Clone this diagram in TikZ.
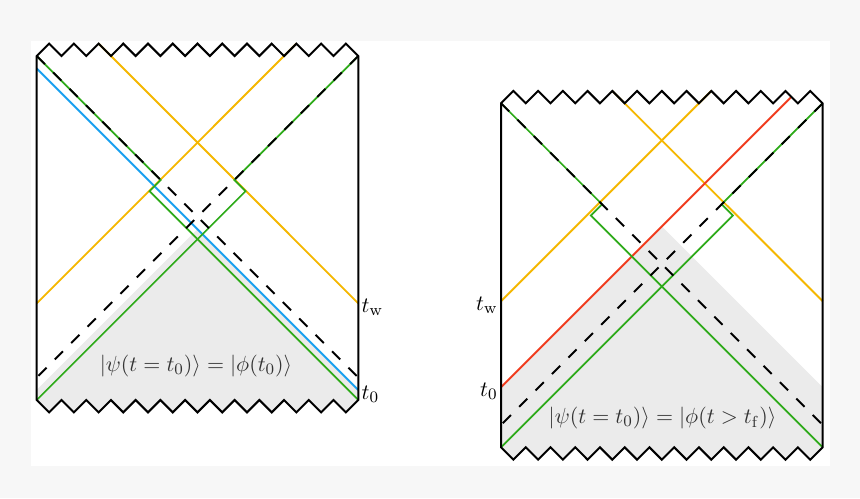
\documentclass[tikz,border=0pt]{standalone}
\usepackage{amsmath}
\definecolor{bgout}{RGB}{247,247,247}
\definecolor{graybg}{RGB}{235,235,235}
\definecolor{myorange}{RGB}{245,183,0}
\definecolor{myblue}{RGB}{25,160,240}
\definecolor{mygreen}{RGB}{45,170,25}
\definecolor{myred}{RGB}{240,60,30}
\newcommand\zztop{-- (12.37,-12.37) -- (24.74,0) -- (37.11,-12.37) -- (49.48,0) -- (61.85,-12.37) -- (74.22,0) -- (86.58,-12.37) -- (98.95,0) -- (111.32,-12.37) -- (123.69,0) -- (136.06,-12.37) -- (148.43,0) -- (160.80,-12.37) -- (173.17,0) -- (185.54,-12.37) -- (197.91,0) -- (210.28,-12.37) -- (222.65,0) -- (235.01,-12.37) -- (247.38,0) -- (259.75,-12.37) -- (272.12,0) -- (284.49,-12.37) -- (296.86,0) -- (309.23,-12.37) -- (321.6,0)}
\newcommand\zzbot{-- (309.23,356.37) -- (296.86,344) -- (284.49,356.37) -- (272.12,344) -- (259.75,356.37) -- (247.38,344) -- (235.01,356.37) -- (222.65,344) -- (210.28,356.37) -- (197.91,344) -- (185.54,356.37) -- (173.17,344) -- (160.80,356.37) -- (148.43,344) -- (136.06,356.37) -- (123.69,344) -- (111.32,356.37) -- (98.95,344) -- (86.58,356.37) -- (74.22,344) -- (61.85,356.37) -- (49.48,344) -- (37.11,356.37) -- (24.74,344) -- (12.37,356.37) -- (0,344)}
\tikzset{
  frame/.style={draw=black, line width=1pt, line join=miter},
  horizon/.style={draw=black, line width=1pt, dash pattern=on 5.8pt off 5.8pt},
  gline/.style={draw=mygreen, line width=0.85pt},
  oline/.style={draw=myorange, line width=0.95pt},
  bline/.style={draw=myblue, line width=0.95pt},
  rline/.style={draw=myred, line width=0.95pt},
  lab/.style={inner sep=1.5pt, font=\fontsize{11}{13}\selectfont},
  formula/.style={inner sep=0pt, text=black!80, font=\fontsize{11}{13}\selectfont}
}
\begin{document}
\begin{tikzpicture}[x=0.5pt,y=-0.5pt]
\useasboundingbox (0,0) rectangle (860,498);
\fill[bgout] (0,0) rectangle (860,498);
\fill[white] (31,41) rectangle (830,466);

% ---------------- left diagram ----------------
\begin{scope}[shift={(36.7,56)}]
  \coordinate (A1) at (0,0);
  \coordinate (B1) at (321.6,0);
  \coordinate (C1) at (321.6,344);
  \coordinate (D1) at (0,344);
  % shaded region
  \fill[graybg] (0,334) -- (160.8,173.2) -- (321.6,334) -- (321.6,344) \zzbot -- cycle;
  % orange
  \coordinate (o1s) at (61.85,-12.37);
  \coordinate (o1e) at (321.6,247.4);
  \coordinate (o2s) at (259.75,-12.37);
  \coordinate (o2e) at (0,247.4);
  \draw[oline] (o1s) -- (o1e);
  \draw[oline] (o2s) -- (o2e);
  % blue
  \coordinate (b1s) at (0,12.4);
  \coordinate (b1e) at (321.6,334);
  \draw[bline] (b1s) -- (b1e);
  % green
  \coordinate (g1a) at (124,124);
  \coordinate (g1b) at (112.8,135.2);
  \coordinate (g2a) at (197.6,124);
  \coordinate (g2b) at (208.8,135.2);
  \draw[gline] (A1) -- (g1a) -- (g1b) -- (C1);
  \draw[gline] (B1) -- (g2a) -- (g2b) -- (D1);
  % horizons
  \coordinate (h1e) at (321.6,321.6);
  \coordinate (h2e) at (0,321.6);
  \draw[horizon] (A1) -- (h1e);
  \draw[horizon] (B1) -- (h2e);
  % frame
  \draw[frame] (0,0) \zztop -- (321.6,344) \zzbot -- cycle;
  \node[lab, anchor=west] (tw1) at ([yshift=-2pt]o1e) {$t_{\mathrm{w}}$};
  \node[lab, anchor=west] (t01) at ([yshift=-2pt]b1e) {$t_0$};
  \node[formula] (f1) at (159.3,310) {$|\psi(t=t_0)\rangle=|\phi(t_0)\rangle$};
\end{scope}

% ---------------- right diagram ----------------
\begin{scope}[shift={(501,103.3)}]
  \coordinate (A2) at (0,0);
  \coordinate (B2) at (321.6,0);
  \coordinate (C2) at (321.6,344);
  \coordinate (D2) at (0,344);
  \fill[graybg] (0,284) -- (160.8,123.2) -- (321.6,284) -- (321.6,344) \zzbot -- cycle;
  % orange
  \coordinate (p1s) at (111.32,-12.37);
  \coordinate (p1e) at (321.6,197.9);
  \coordinate (p2s) at (210.28,-12.37);
  \coordinate (p2e) at (0,197.9);
  \draw[oline] (p1s) -- (p1e);
  \draw[oline] (p2s) -- (p2e);
  % red
  \coordinate (r1s) at (0,284);
  \coordinate (r1e) at (290.45,-6.45);
  \draw[rline] (r1s) -- (r1e);
  % green
  \coordinate (k1a) at (101,101);
  \coordinate (k1b) at (89.8,112.2);
  \coordinate (k2a) at (220.6,101);
  \coordinate (k2b) at (231.8,112.2);
  \draw[gline] (A2) -- (k1a) -- (k1b) -- (C2);
  \draw[gline] (B2) -- (k2a) -- (k2b) -- (D2);
  % horizons
  \coordinate (q1e) at (321.6,321.6);
  \coordinate (q2e) at (0,321.6);
  \draw[horizon] (A2) -- (q1e);
  \draw[horizon] (B2) -- (q2e);
  % frame
  \draw[frame] (0,0) \zztop -- (321.6,344) \zzbot -- cycle;
  \node[lab, anchor=east] (tw2) at ([yshift=-2pt]p2e) {$t_{\mathrm{w}}$};
  \node[lab, anchor=east] (t02) at ([yshift=-2pt]r1s) {$t_0$};
  \node[formula] (f2) at (161.5,314.7) {$|\psi(t=t_0)\rangle=|\phi(t>t_{\mathrm{f}})\rangle$};
\end{scope}
\end{tikzpicture}
\end{document}
